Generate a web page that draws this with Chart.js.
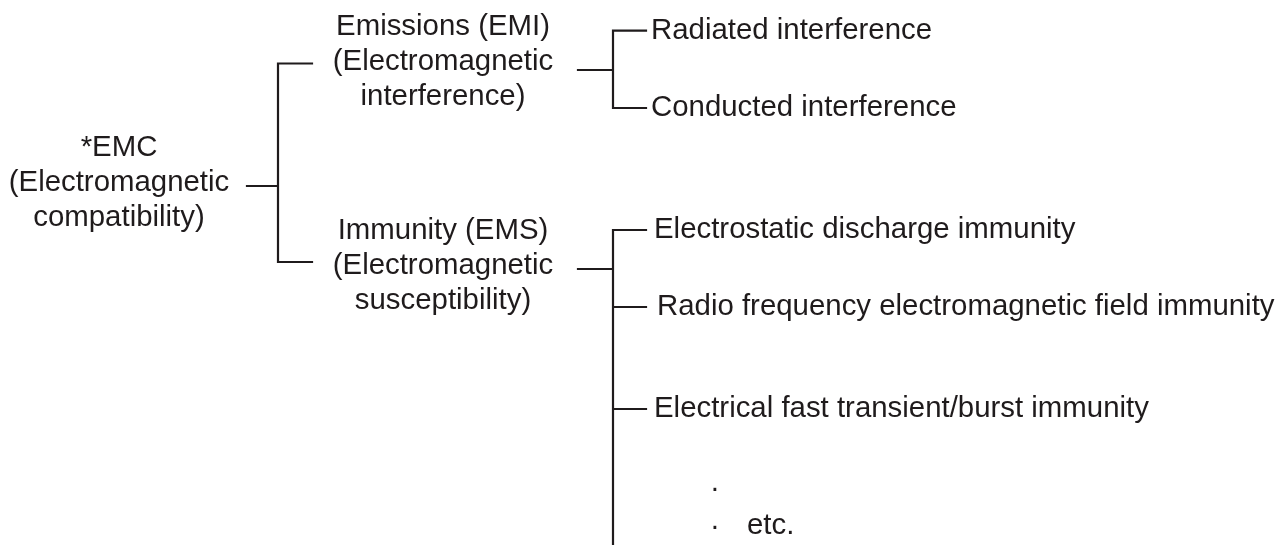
<!DOCTYPE html>
<html>
<head>
<meta charset="utf-8">
<title>EMC tree</title>
<script src="https://cdn.jsdelivr.net/npm/chart.js@4.4.1/dist/chart.umd.min.js"></script>
<style>
  html, body { margin: 0; padding: 0; background: #fff; }
  #wrap { width: 1285px; height: 545px; position: relative; }
</style>
</head>
<body>
<div id="wrap"><canvas id="treeChart"></canvas></div>
<script>
// tree content
const rootLabel = ['*EMC', '(Electromagnetic', 'compatibility)'];
const groupLabels = [
    ['Emissions (EMI)', '(Electromagnetic', 'interference)'],
    ['Immunity (EMS)', '(Electromagnetic', 'susceptibility)']
];
const emiItems = ['Radiated interference', 'Conducted interference'];
const emsItems = ['Electrostatic discharge immunity', 'Radio frequency electromagnetic field immunity', 'Electrical fast transient/burst immunity'];
const emsMore = ['·', '·', 'etc.'];

// vertical positions (diagram units, top = 0)
const rootY = 186;
const groupY = [63.5, 262];
const groupOutY = [70, 269];
const emiY = [30.7, 108];
const emsY = [230, 307, 409];

const ink = '#1f1b1c';
const col = { rootEnd: 247, rootBar: 278, groupStart: 312, groupEnd: 578, leafBar: 613, leafStart: 646 };

// line segments -> one dataset, gaps with null
function seg(x1, y1, x2, y2) {
    return [{ x: x1, y: y1 }, { x: x2, y: y2 }, { x: null, y: null }];
}

let pts = [];
pts = pts.concat(seg(col.rootEnd, rootY, col.rootBar, rootY));
pts = pts.concat(seg(col.rootBar, groupY[0], col.rootBar, groupY[1]));
groupY.forEach(y => { pts = pts.concat(seg(col.rootBar, y, col.groupStart, y)); });

// EMI bracket
pts = pts.concat(seg(col.groupEnd, groupOutY[0], col.leafBar, groupOutY[0]));
pts = pts.concat(seg(col.leafBar, emiY[0], col.leafBar, emiY[emiY.length - 1]));
emiY.forEach(y => { pts = pts.concat(seg(col.leafBar, y, col.leafStart, y)); });

// EMS bracket, runs off the bottom
pts = pts.concat(seg(col.groupEnd, groupOutY[1], col.leafBar, groupOutY[1]));
pts = pts.concat(seg(col.leafBar, emsY[0], col.leafBar, 545));
emsY.forEach(y => { pts = pts.concat(seg(col.leafBar, y, col.leafStart, y)); });

const labelPlugin = {
    id: 'treeLabels',
    afterDatasetsDraw(chart) {
        const { ctx, scales } = chart;
        const px = v => scales.x.getPixelForValue(v);
        const py = v => scales.y.getPixelForValue(v);
        ctx.save();
        ctx.fillStyle = ink;
        ctx.font = '29.4px "Liberation Sans", Arial, sans-serif';
        ctx.textBaseline = 'middle';

        // root
        ctx.textAlign = 'center';
        rootLabel.forEach((t, i) => ctx.fillText(t, px(119), py(148 + i * 35)));

        // groups
        const groupTop = [27, 231];
        groupLabels.forEach((lines, g) => {
            lines.forEach((t, i) => ctx.fillText(t, px(443), py(groupTop[g] + i * 35)));
        });

        // leaves
        ctx.textAlign = 'left';
        emiItems.forEach((t, i) => ctx.fillText(t, px(651), py(emiY[i])));
        const emsX = [654, 657, 654];
        emsItems.forEach((t, i) => ctx.fillText(t, px(emsX[i]), py(emsY[i])));

        // trailing dots
        ctx.textAlign = 'center';
        ctx.fillText(emsMore[0], px(715), py(489));
        ctx.fillText(emsMore[1], px(715), py(527));
        ctx.textAlign = 'left';
        ctx.fillText(emsMore[2], px(747), py(526));
        ctx.restore();
    }
};

new Chart(document.getElementById('treeChart'), {
    type: 'scatter',
    data: {
        datasets: [{
            data: pts,
            showLine: true,
            spanGaps: false,
            borderColor: ink,
            borderWidth: 2.2,
            pointRadius: 0,
            borderCapStyle: 'square',
            borderJoinStyle: 'miter'
        }]
    },
    options: {
        responsive: true,
        maintainAspectRatio: false,
        animation: false,
        layout: { padding: 0 },
        plugins: {
            legend: { display: false },
            tooltip: { enabled: false }
        },
        scales: {
            x: { type: 'linear', min: 0, max: 1285, display: false },
            y: { type: 'linear', min: 0, max: 545, reverse: true, display: false }
        }
    },
    plugins: [labelPlugin]
});
</script>
</body>
</html>
